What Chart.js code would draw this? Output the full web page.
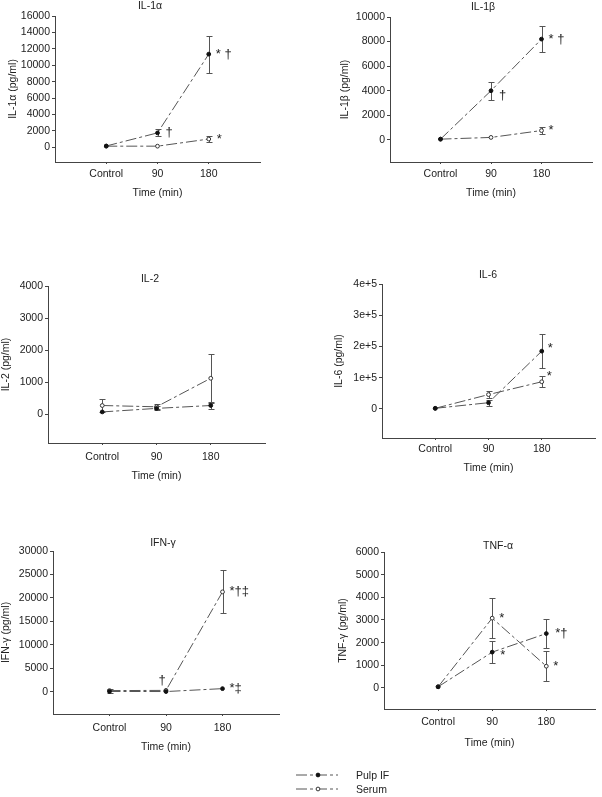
<!DOCTYPE html>
<html><head><meta charset="utf-8">
<script src="https://cdn.jsdelivr.net/npm/chart.js@4.4.1/dist/chart.umd.min.js"></script>
<style>
html,body{margin:0;padding:0;background:#fff;overflow:hidden;width:602px;height:797px;position:relative;}
canvas{position:absolute;}
#legend{position:absolute;left:0;top:0;}
</style></head><body>
<canvas id="c1" width="298" height="200" style="left:0;top:0"></canvas>
<canvas id="c2" width="302" height="200" style="left:300px;top:0"></canvas>
<canvas id="c3" width="298" height="222" style="left:0;top:262px"></canvas>
<canvas id="c4" width="302" height="222" style="left:300px;top:262px"></canvas>
<canvas id="c5" width="298" height="230" style="left:0;top:525px"></canvas>
<canvas id="c6" width="302" height="230" style="left:300px;top:525px"></canvas>
<svg id="legend" width="602" height="797" xmlns="http://www.w3.org/2000/svg" font-family="Liberation Sans, Arial, sans-serif" font-size="10.5" fill="#222">
  <line x1="296" y1="775" x2="338" y2="775" stroke="#555" stroke-width="1" stroke-dasharray="11 3 3 3"/>
  <circle cx="318" cy="775" r="1.9" fill="#111" stroke="#111"/>
  <text x="356" y="779">Pulp IF</text>
  <line x1="296" y1="789" x2="338" y2="789" stroke="#555" stroke-width="1" stroke-dasharray="11 3 3 3"/>
  <circle cx="318" cy="789" r="1.9" fill="#fff" stroke="#333"/>
  <text x="356" y="793">Serum</text>
</svg>
<script>
// ---------- data ----------
const categories = ['Control', '90', '180'];
const seriesNames = ['Pulp IF', 'Serum'];

const il1aPulp = [150, 1750, 11350];
const il1aPulpErr = [0, 430, 2250];
const il1aSerum = [130, 130, 1000];
const il1aSerumErr = [0, 0, 380];
const il1aTicks = [0, 2000, 4000, 6000, 8000, 10000, 12000, 14000, 16000];

const il1bPulp = [60, 4000, 8200];
const il1bPulpErr = [0, 750, 1030];
const il1bSerum = [60, 200, 760];
const il1bSerumErr = [0, 0, 300];
const il1bTicks = [0, 2000, 4000, 6000, 8000, 10000];

const il2Pulp = [70, 180, 270];
const il2PulpErr = [0, 60, 110];
const il2Serum = [270, 230, 1120];
const il2SerumErr = [190, 80, 760];
const il2Ticks = [0, 1000, 2000, 3000, 4000];

const il6Pulp = [2000, 20000, 185000];
const il6PulpErr = [0, 9000, 54000];
const il6Serum = [2000, 46000, 87000];
const il6SerumErr = [0, 12000, 18000];
const il6Ticks = [0, 100000, 200000, 300000, 400000];
const il6TickLabels = ['0', '1e+5', '2e+5', '3e+5', '4e+5'];

const ifngPulp = [100, 80, 700];
const ifngPulpErr = [0, 0, 0];
const ifngSerum = [280, 330, 21300];
const ifngSerumErr = [420, 0, 4600];
const ifngTicks = [0, 5000, 10000, 15000, 20000, 25000, 30000];

const tnfaPulp = [50, 1580, 2400];
const tnfaPulpErr = [0, 490, 640];
const tnfaSerum = [50, 3080, 960];
const tnfaSerumErr = [0, 870, 650];
const tnfaTicks = [0, 1000, 2000, 3000, 4000, 5000, 6000];

// significance marks: dataset index (0 pulp, 1 serum), point index, text
const il1aMarks = [[0, 2, '* †'], [0, 1, '†'], [1, 2, '*']];
const il1bMarks = [[0, 2, '* †'], [0, 1, '†'], [1, 2, '*']];
const il2Marks = [];
const il6Marks = [[0, 2, '*'], [1, 2, '*']];
const ifngMarks = [[1, 1, '†'], [1, 2, '*†‡'], [0, 2, '*‡']];
const tnfaMarks = [[1, 1, '*'], [0, 1, '*'], [0, 2, '*†'], [1, 2, '*']];

// ---------- rendering ----------
const FONT = "'Liberation Sans', Arial, sans-serif";
const TEXT = '#222';
const AXIS = '#444';
const LINE = '#555';

const errorBarPlugin = {
  id: 'errorBars',
  beforeDatasetsDraw(chart) {
    const ctx = chart.ctx, ys = chart.scales.y;
    chart.data.datasets.forEach((ds, di) => {
      const meta = chart.getDatasetMeta(di);
      (ds.errors || []).forEach((e, i) => {
        if (!e) return;
        const pt = meta.data[i];
        const v = ds.data[i].y;
        const top = Math.round(ys.getPixelForValue(v + e)) + 0.5;
        const bot = Math.round(ys.getPixelForValue(v - e)) + 0.5;
        const x = Math.round(pt.x) + 0.5;
        ctx.save();
        ctx.strokeStyle = '#555';
        ctx.lineWidth = 1;
        ctx.beginPath();
        ctx.moveTo(x, top); ctx.lineTo(x, bot);
        ctx.moveTo(x - 3, top); ctx.lineTo(x + 3, top);
        ctx.moveTo(x - 3, bot); ctx.lineTo(x + 3, bot);
        ctx.stroke();
        ctx.restore();
      });
    });
  }
};

const marksPlugin = {
  id: 'sigMarks',
  afterDatasetsDraw(chart, args, opts) {
    const ctx = chart.ctx;
    (opts.items || []).forEach(m => {
      const pt = chart.getDatasetMeta(m.ds).data[m.i];
      ctx.save();
      ctx.fillStyle = TEXT;
      ctx.font = '13px ' + FONT;
      ctx.textAlign = m.align || 'left';
      ctx.textBaseline = 'middle';
      ctx.fillText(m.text, pt.x + (m.dx || 0), pt.y + (m.dy || 0));
      ctx.restore();
    });
  }
};

const panelTitlePlugin = {
  id: 'panelTitle',
  afterDraw(chart, args, opts) {
    const ctx = chart.ctx;
    ctx.save();
    ctx.fillStyle = TEXT;
    ctx.font = '10.5px ' + FONT;
    ctx.textAlign = 'center';
    ctx.textBaseline = 'middle';
    ctx.fillText(opts.text, opts.x, opts.y);
    ctx.restore();
  }
};

function makePanel(p) {
  const box = p.box; // [left, top, width, height]
  const toPts = arr => arr.map((v, i) => ({x: i + 1, y: v}));
  const marks = p.marks.map(([ds, i, text], k) => Object.assign({ds, i, text, dx: 7, dy: 0}, (p.markStyle || [])[k] || {}));
  new Chart(document.getElementById(p.id), {
    type: 'line',
    data: {
      datasets: [
        {label: seriesNames[0], data: toPts(p.pulp), errors: p.pulpErr,
         borderColor: LINE, borderWidth: 1, borderDash: [11, 3, 3, 3],
         pointRadius: 1.9, pointBackgroundColor: '#111', pointBorderColor: '#111', pointBorderWidth: 1, fill: false, tension: 0},
        {label: seriesNames[1], data: toPts(p.serum), errors: p.serumErr,
         borderColor: LINE, borderWidth: 1, borderDash: [11, 3, 3, 3],
         pointRadius: 1.9, pointBackgroundColor: '#fff', pointBorderColor: '#333', pointBorderWidth: 1, fill: false, tension: 0}
      ]
    },
    options: {
      responsive: false, animation: false, devicePixelRatio: 1,
      layout: {padding: {left: 0, bottom: 0, top: p.plot[2] - box[1], right: box[0] + box[2] - p.plot[1]}},
      plugins: {
        legend: {display: false}, tooltip: {enabled: false}, title: {display: false},
        panelTitle: {text: p.title, x: p.titlePos[0], y: p.titlePos[1]},
        sigMarks: {items: marks}
      },
      scales: {
        x: {
          type: 'linear', min: 0, max: p.xMax || 4,
          afterBuildTicks: s => { s.ticks = categories.map((c, i) => ({value: i + 1})); },
          afterFit: s => { s.height = box[1] + box[3] - p.plot[3]; },
          ticks: {callback: v => categories[v - 1], color: TEXT, font: {family: FONT, size: 10.5}, padding: p.xTickPad, maxRotation: 0, autoSkip: false},
          grid: {drawOnChartArea: false, drawTicks: true, tickLength: 2, color: AXIS},
          border: {display: true, color: AXIS, width: 1},
          title: {display: true, text: 'Time (min)', color: TEXT, font: {family: FONT, size: 10.5}, padding: {top: 0, bottom: p.xTitlePad}}
        },
        y: {
          type: 'linear', min: p.yMin, max: p.ticks[p.ticks.length - 1],
          afterBuildTicks: s => { s.ticks = p.ticks.map(v => ({value: v})); },
          afterFit: s => { s.width = p.plot[0] - box[0]; },
          ticks: {callback: v => (p.tickLabels ? p.tickLabels[p.ticks.indexOf(v)] : String(v)), color: TEXT, font: {family: FONT, size: 10.5}, padding: 2, autoSkip: false},
          grid: {drawOnChartArea: false, drawTicks: true, tickLength: 3, color: AXIS},
          border: {display: true, color: AXIS, width: 1},
          title: {display: true, text: p.yTitle, color: TEXT, font: {family: FONT, size: 10.5}, padding: {top: p.yTitlePad, bottom: 0}}
        }
      }
    },
    plugins: [errorBarPlugin, marksPlugin, panelTitlePlugin]
  });
}

makePanel({id: 'c1', box: [0, 0, 298, 200], plot: [55, 260, 16, 162], yMin: -1800, ticks: il1aTicks,
  pulp: il1aPulp, pulpErr: il1aPulpErr, serum: il1aSerum, serumErr: il1aSerumErr,
  title: 'IL-1α', titlePos: [150, 6], yTitle: 'IL-1α (pg/ml)', yTitlePad: 6.7, xTitlePad: 0.7, xTickPad: 4,
  marks: il1aMarks, markStyle: [{dx: 7}, {dx: 8}, {dx: 8}]});

makePanel({id: 'c2', box: [300, 0, 302, 200], plot: [390, 592, 17, 162], yMin: -1800, ticks: il1bTicks,
  pulp: il1bPulp, pulpErr: il1bPulpErr, serum: il1bSerum, serumErr: il1bSerumErr,
  title: 'IL-1β', titlePos: [183, 7], yTitle: 'IL-1β (pg/ml)', yTitlePad: 38.7, xTitlePad: 0.7, xTickPad: 4,
  marks: il1bMarks, markStyle: [{dx: 7}, {dx: 8, dy: 5}, {dx: 7}]});

makePanel({id: 'c3', box: [0, 262, 298, 222], plot: [48, 265, 286, 443], yMin: -900, ticks: il2Ticks,
  pulp: il2Pulp, pulpErr: il2PulpErr, serum: il2Serum, serumErr: il2SerumErr,
  title: 'IL-2', titlePos: [150, 17], yTitle: 'IL-2 (pg/ml)', yTitlePad: 0, xTitlePad: 1.7, xTickPad: 6,
  marks: il2Marks});

makePanel({id: 'c4', box: [300, 262, 302, 222], plot: [382, 595, 284, 438], yMin: -93000, ticks: il6Ticks, tickLabels: il6TickLabels,
  pulp: il6Pulp, pulpErr: il6PulpErr, serum: il6Serum, serumErr: il6SerumErr,
  title: 'IL-6', titlePos: [188, 13], yTitle: 'IL-6 (pg/ml)', yTitlePad: 32.7, xTitlePad: 9.7, xTickPad: 3,
  marks: il6Marks, markStyle: [{dx: 6, dy: -3}, {dx: 5, dy: -5}]});

makePanel({id: 'c5', box: [0, 525, 298, 230], plot: [53, 279, 551, 714], yMin: -4700, ticks: ifngTicks,
  pulp: ifngPulp, pulpErr: ifngPulpErr, serum: ifngSerum, serumErr: ifngSerumErr,
  title: 'IFN-γ', titlePos: [163, 18], yTitle: 'IFN-γ (pg/ml)', yTitlePad: 0, xTitlePad: 1.7, xTickPad: 6,
  marks: ifngMarks, markStyle: [{dx: -4, dy: -10, align: 'center'}, {dx: 7}, {dx: 7}]});

makePanel({id: 'c6', box: [300, 525, 302, 230], plot: [384, 595, 552, 709], xMax: 3.9, yMin: -930, ticks: tnfaTicks,
  pulp: tnfaPulp, pulpErr: tnfaPulpErr, serum: tnfaSerum, serumErr: tnfaSerumErr,
  title: 'TNF-α', titlePos: [198, 21], yTitle: 'TNF-γ (pg/ml)', yTitlePad: 36.4, xTitlePad: 5.7, xTickPad: 5,
  marks: tnfaMarks, markStyle: [{dx: 7}, {dx: 8, dy: 3}, {dx: 9}, {dx: 7}]});
</script>
</body></html>
